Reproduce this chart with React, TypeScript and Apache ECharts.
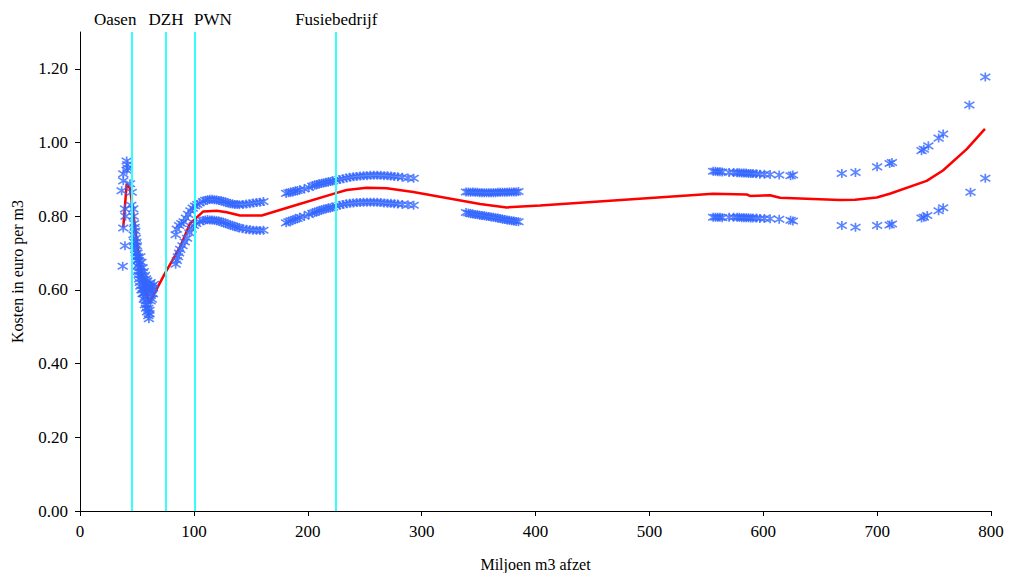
import React, { useEffect, useRef } from "react";
import * as echarts from "echarts";

// Upper cost band (Miljoen m3, euro/m3)
const upperPts: [number, number][] = [
  [36.6, 0.869], [38, 0.915], [38, 0.896], [39.5, 0.82], [41, 0.95], [41.5, 0.94], [42, 0.93], [41, 0.925],
  [43.9, 0.888], [45.4, 0.865], [46.8, 0.82], [45, 0.83],
  [47, 0.8], [47.5, 0.78], [48, 0.77], [48.5, 0.76], [49, 0.74], [49.5, 0.73], [50, 0.72], [50.5, 0.7],
  [51, 0.69], [51.5, 0.68], [52, 0.67], [52.5, 0.66], [53, 0.65], [54, 0.64], [55, 0.63], [56, 0.62],
  [57, 0.615], [58, 0.61], [59, 0.605], [60, 0.6], [61, 0.595], [62, 0.59], [63, 0.61],
  [53, 0.69], [54, 0.675], [55, 0.66], [56, 0.65], [57, 0.64], [58, 0.63], [59, 0.625], [60, 0.615],
  [61, 0.61], [62, 0.62], [63, 0.6], [64, 0.605], [65, 0.615], [64, 0.59],
  [84, 0.75], [85, 0.765], [87, 0.775], [89, 0.78], [91, 0.785], [93, 0.795], [95, 0.805], [97, 0.815],
  [99, 0.822], [101, 0.828], [103, 0.832], [105, 0.836], [108, 0.84], [110, 0.843], [112, 0.845],
  [114, 0.846], [116, 0.846], [118, 0.845], [120, 0.844], [122, 0.843], [124, 0.842], [126, 0.84],
  [128, 0.838], [130, 0.836], [132, 0.834], [134, 0.833], [136, 0.832], [138, 0.832], [140, 0.831],
  [143, 0.832], [146, 0.833], [149, 0.834], [152, 0.836], [155, 0.837], [158, 0.838], [161, 0.84],
  [181, 0.862], [183, 0.864], [185, 0.866], [187, 0.866], [189, 0.868], [191, 0.87], [193, 0.872],
  [197, 0.874], [201, 0.878], [204, 0.882], [206, 0.884], [208, 0.886], [210, 0.888], [212, 0.889],
  [214, 0.89], [216, 0.892], [218, 0.893], [220, 0.894], [222, 0.896], [225, 0.898], [228, 0.9],
  [231, 0.902], [234, 0.904], [237, 0.906], [240, 0.907], [243, 0.908], [246, 0.909], [249, 0.91],
  [252, 0.91], [255, 0.911], [258, 0.911], [261, 0.911], [264, 0.911], [267, 0.91], [270, 0.91],
  [273, 0.909], [276, 0.908], [279, 0.907], [283, 0.906], [288, 0.904], [293, 0.903],
  [339, 0.866], [341, 0.866], [343, 0.865], [345, 0.866], [347, 0.865], [349, 0.865], [351, 0.864],
  [353, 0.864], [355, 0.864], [357, 0.864], [359, 0.864], [361, 0.864], [363, 0.864], [365, 0.864],
  [367, 0.865], [369, 0.865], [371, 0.865], [373, 0.865], [375, 0.865], [377, 0.866], [379, 0.866],
  [381, 0.866], [383, 0.866], [385, 0.867],
  [556, 0.922], [558, 0.922], [560, 0.921], [562, 0.921], [564, 0.92], [570, 0.919], [574, 0.919],
  [577, 0.918], [579, 0.918], [581, 0.917], [583, 0.917], [585, 0.917], [587, 0.916], [589, 0.916],
  [591, 0.916], [594, 0.915], [597, 0.914], [601, 0.914], [606, 0.913], [614, 0.912], [624, 0.91], [626, 0.912],
  [669, 0.916], [681, 0.919], [700, 0.934], [711, 0.943], [713, 0.946], [739, 0.978], [741, 0.982],
  [745, 0.991], [754, 1.012], [758, 1.023], [781, 1.102], [795, 1.178],
];

// Lower cost band
const lowerPts: [number, number][] = [
  [37.5, 0.664], [38, 0.768], [39.5, 0.72], [40, 0.8],
  [47, 0.75], [47.5, 0.73], [48, 0.72], [48.5, 0.71], [49, 0.7], [49.5, 0.69], [50, 0.68], [50.5, 0.665],
  [51, 0.65], [51.5, 0.64], [52, 0.63], [52.5, 0.62], [53, 0.61], [54, 0.6], [55, 0.59], [56, 0.575],
  [57, 0.56], [58, 0.55], [59, 0.54], [60, 0.53], [60.5, 0.522],
  [55, 0.6], [56, 0.59], [57, 0.58], [58, 0.57], [59, 0.56], [60, 0.55], [61, 0.545], [62, 0.57],
  [63, 0.575], [61, 0.535],
  [84, 0.67], [85, 0.68], [86, 0.69], [87, 0.7], [88, 0.71], [90, 0.72], [92, 0.73], [94, 0.74],
  [96, 0.755], [98, 0.765], [100, 0.775], [102, 0.78], [105, 0.785], [108, 0.788], [110, 0.79],
  [112, 0.791], [114, 0.79], [116, 0.79], [118, 0.789], [120, 0.788], [122, 0.787], [124, 0.785],
  [126, 0.783], [128, 0.78], [130, 0.778], [132, 0.776], [134, 0.774], [136, 0.772], [138, 0.77],
  [140, 0.768], [143, 0.766], [146, 0.765], [149, 0.763], [152, 0.762], [155, 0.762], [158, 0.761], [161, 0.762],
  [181, 0.782], [183, 0.785], [185, 0.788], [187, 0.79], [189, 0.792], [191, 0.794], [193, 0.797],
  [197, 0.8], [201, 0.805], [204, 0.808], [206, 0.81], [208, 0.813], [210, 0.815], [212, 0.817],
  [214, 0.819], [216, 0.82], [218, 0.822], [220, 0.823], [222, 0.825], [225, 0.828], [228, 0.83],
  [231, 0.832], [234, 0.834], [237, 0.835], [240, 0.836], [243, 0.837], [246, 0.837], [249, 0.838],
  [252, 0.838], [255, 0.838], [258, 0.838], [261, 0.838], [264, 0.837], [267, 0.836], [270, 0.835],
  [273, 0.835], [276, 0.834], [279, 0.833], [283, 0.832], [288, 0.831], [293, 0.83],
  [339, 0.81], [341, 0.809], [343, 0.807], [345, 0.806], [347, 0.805], [349, 0.804], [351, 0.803],
  [353, 0.802], [355, 0.801], [357, 0.8], [359, 0.799], [361, 0.798], [363, 0.797], [365, 0.796],
  [367, 0.795], [369, 0.794], [371, 0.792], [373, 0.791], [375, 0.79], [377, 0.789], [379, 0.788],
  [381, 0.787], [383, 0.786], [385, 0.785],
  [556, 0.797], [558, 0.797], [560, 0.797], [562, 0.797], [564, 0.796], [570, 0.797], [574, 0.797],
  [577, 0.797], [579, 0.797], [581, 0.796], [583, 0.796], [585, 0.796], [587, 0.796], [589, 0.795],
  [591, 0.795], [594, 0.795], [597, 0.794], [601, 0.794], [606, 0.793], [614, 0.792], [624, 0.789], [626, 0.787],
  [669, 0.775], [681, 0.77], [700, 0.775], [711, 0.776], [713, 0.779], [739, 0.795], [741, 0.797],
  [744, 0.802], [754, 0.815], [758, 0.823], [782, 0.865], [795, 0.903],
];

// Fitted cost curve
const fitLine: [number, number][] = [
  [38, 0.77], [41, 0.888], [43.9, 0.875], [48, 0.78], [52, 0.68], [56, 0.61], [60.9, 0.565],
  [74.6, 0.645], [87.8, 0.716], [96.6, 0.78], [108.3, 0.813], [120, 0.815], [128.8, 0.811],
  [140.5, 0.802], [159.6, 0.802], [191.4, 0.832], [223.9, 0.862], [234.2, 0.871], [251.8, 0.877],
  [269.3, 0.876], [292.7, 0.866], [351.3, 0.833], [374.7, 0.824], [404, 0.829], [555.9, 0.861],
  [585.5, 0.859], [588.4, 0.855], [605.9, 0.857], [614.7, 0.85], [667.4, 0.844], [680.6, 0.845],
  [699.6, 0.851], [711.1, 0.861], [743.5, 0.896], [757.8, 0.924], [778.7, 0.982], [794.7, 1.037],
];

const markerNames = ["Oasen", "DZH", "PWN", "Fusiebedrijf"];
const markerValues = [45.8, 75.5, 101, 225];

const xTickInterval = 100;
const yTickValues = [0, 0.2, 0.4, 0.6, 0.8, 1.0, 1.2];

const FONT = "'Liberation Serif', 'Times New Roman', serif";
const ASTERISK = "path://M5,1L5,9M0,2.2L10,7.8M0,7.8L10,2.2";

export default function App() {
  const ref = useRef<HTMLDivElement>(null);

  useEffect(() => {
    if (!ref.current) return;
    const chart = echarts.init(ref.current, undefined, { renderer: "svg" });

    const labelPadding: Record<string, number[]> = {
      Oasen: [0, 34, 0, 0],
      PWN: [0, 0, 0, 36],
    };

    const scatterStyle = {
      color: "rgba(0,0,0,0)",
      borderColor: "#3366FF",
      borderWidth: 1.6,
    };

    chart.setOption({
      animation: false,
      textStyle: { fontFamily: FONT },
      grid: { left: 80, right: 18, top: 32, bottom: 62, outerBoundsMode: "none" },
      xAxis: {
        type: "value",
        min: 0,
        max: 800,
        interval: xTickInterval,
        name: "Miljoen m3 afzet",
        nameLocation: "middle",
        nameGap: 45,
        nameTextStyle: { color: "#000", fontSize: 16, fontFamily: FONT },
        axisLine: { show: true, lineStyle: { color: "#000", width: 1 } },
        axisTick: { show: true, inside: false, length: 5, lineStyle: { color: "#000" } },
        axisLabel: { color: "#000", fontSize: 17, fontFamily: FONT, margin: 12 },
        splitLine: { show: false },
      },
      yAxis: {
        type: "value",
        min: 0,
        max: 1.3,
        name: "Kosten in euro per m3",
        nameLocation: "middle",
        nameGap: 55,
        nameTextStyle: { color: "#000", fontSize: 16, fontFamily: FONT },
        axisLine: { show: true, lineStyle: { color: "#000", width: 1 } },
        axisTick: { show: true, inside: false, length: 5, customValues: yTickValues, lineStyle: { color: "#000" } },
        axisLabel: {
          color: "#000",
          fontSize: 17,
          fontFamily: FONT,
          margin: 12,
          customValues: yTickValues,
          formatter: (v: number) => v.toFixed(2),
        },
        splitLine: { show: false },
      },
      series: [
        {
          type: "line",
          data: [],
          z: 1,
          silent: true,
          markLine: {
            silent: true,
            symbol: ["none", "none"],
            lineStyle: { color: "#33FFFF", width: 2, type: "solid" },
            label: {
              show: true,
              position: "end",
              formatter: (p: any) => p.name,
              color: "#000",
              fontSize: 17,
              fontFamily: FONT,
              distance: 4,
            },
            emphasis: { disabled: true },
            data: markerNames.map((n, i) => ({
              name: n,
              xAxis: markerValues[i],
              label: labelPadding[n] ? { padding: labelPadding[n] } : {},
            })),
          },
        },
        {
          type: "line",
          data: fitLine,
          z: 2,
          showSymbol: false,
          symbol: "none",
          silent: true,
          lineStyle: { color: "#FF0000", width: 2.5 },
        },
        {
          type: "scatter",
          data: upperPts,
          z: 3,
          symbol: ASTERISK,
          symbolSize: [10, 9],
          silent: true,
          itemStyle: scatterStyle,
        },
        {
          type: "scatter",
          data: lowerPts,
          z: 3,
          symbol: ASTERISK,
          symbolSize: [10, 9],
          silent: true,
          itemStyle: scatterStyle,
        },
      ],
    });

    return () => chart.dispose();
  }, []);

  return (
    <div
      ref={ref}
      style={{ position: "fixed", left: 0, top: 0, width: 1009, height: 573, background: "#fff" }}
    />
  );
}
